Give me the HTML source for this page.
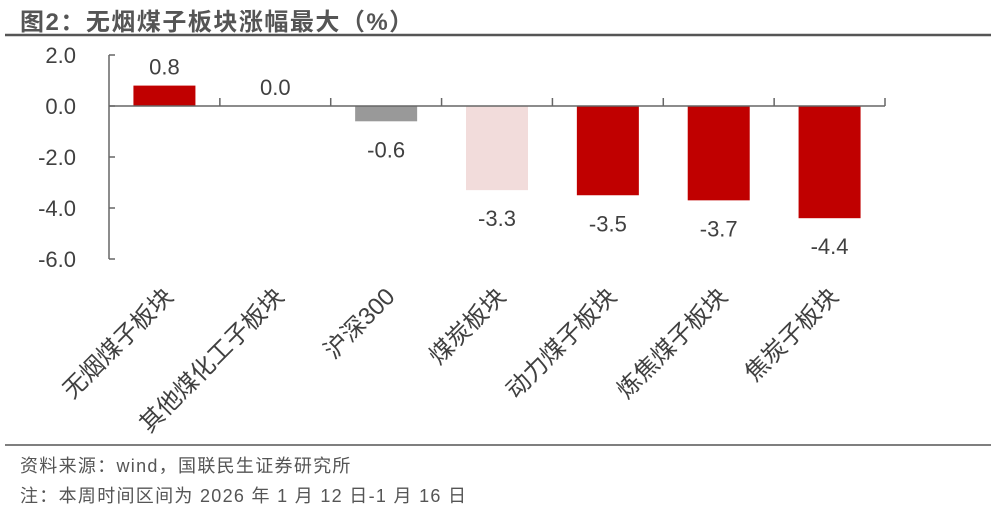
<!DOCTYPE html>
<html><head><meta charset="utf-8"><style>
body{margin:0;width:991px;height:517px;background:#fff;overflow:hidden;font-family:"Liberation Sans","Noto Sans CJK SC",sans-serif;}
svg{position:absolute;left:0;top:0}
</style></head><body>
<svg width="991" height="517">
<text x="20" y="30" font-size="24" font-weight="bold" fill="#555" letter-spacing="1.5" font-family="Liberation Sans, Noto Sans CJK SC, sans-serif">图2：无烟煤子板块涨幅最大（%）</text>
<line x1="5" y1="35" x2="991" y2="35" stroke="#555" stroke-width="2.5"/>
<g id="plot"></g>
<line x1="5" y1="445" x2="991" y2="445" stroke="#555" stroke-width="1.5"/>
<text x="20" y="472" font-size="18" fill="#555" letter-spacing="1.3">资料来源：wind，国联民生证券研究所</text>
<text x="20" y="502" font-size="18" fill="#555" letter-spacing="1.3">注：本周时间区间为 2026 年 1 月 12 日-1 月 16 日</text>
</svg>
<script>
const categories=["无烟煤子板块","其他煤化工子板块","沪深300","煤炭板块","动力煤子板块","炼焦煤子板块","焦炭子板块"];
const values=[0.8,0.0,-0.6,-3.3,-3.5,-3.7,-4.4];
const labels=["0.8","0.0","-0.6","-3.3","-3.5","-3.7","-4.4"];
const colors=["#C00000","#C00000","#999999","#F2DCDB","#C00000","#C00000","#C00000"];
const yTicks=[2,0,-2,-4,-6];
const NS="http://www.w3.org/2000/svg";
const g=document.getElementById('plot');
const x0=109,x1=885,cw=(x1-x0)/categories.length;
const y=v=>106-v*25.5;
function mk(t,a){const e=document.createElementNS(NS,t);for(const k in a)e.setAttribute(k,a[k]);g.appendChild(e);return e;}
let ax=mk('line',{x1:x0,y1:y(2),x2:x0,y2:y(-6),stroke:'#666','stroke-width':1.5});


yTicks.forEach(v=>{
 let t=mk('line',{x1:x0,y1:y(v),x2:x0+6,y2:y(v),stroke:'#666','stroke-width':1.5});
 
 
 let l=mk('text',{x:76,y:y(v)+8,'font-size':22,fill:'#404040','text-anchor':'end'});
 l.textContent=v.toFixed(1);
 
 
});
values.forEach((v,i)=>{
 const cx=x0+cw*(i+0.5);
 const top=Math.min(y(v),y(0)),h=Math.abs(y(v)-y(0));
 let b=mk('rect',{x:cx-31,y:top,width:62,height:Math.max(h,0),fill:colors[i]});
 
 
 const ly=v>=0?y(v)-11:y(v)+36;
 let t=mk('text',{x:cx,y:ly,'font-size':22,fill:'#404040','text-anchor':'middle'});
 t.textContent=labels[i];
 
 
 let c=mk('text',{x:cx+10,y:298,'font-size':24,fill:'#404040','text-anchor':'end',transform:`rotate(-45 ${cx+10} 298)`});
 c.textContent=categories[i];
 
 
});
let zl=mk('line',{x1:x0,y1:y(0),x2:x1,y2:y(0),stroke:'#666','stroke-width':1.5});


for(let i=1;i<=categories.length;i++){
 let t=mk('line',{x1:x0+cw*i,y1:y(0)-8,x2:x0+cw*i,y2:y(0),stroke:'#666','stroke-width':1.5});
 
 
}
</script>
</body></html>
